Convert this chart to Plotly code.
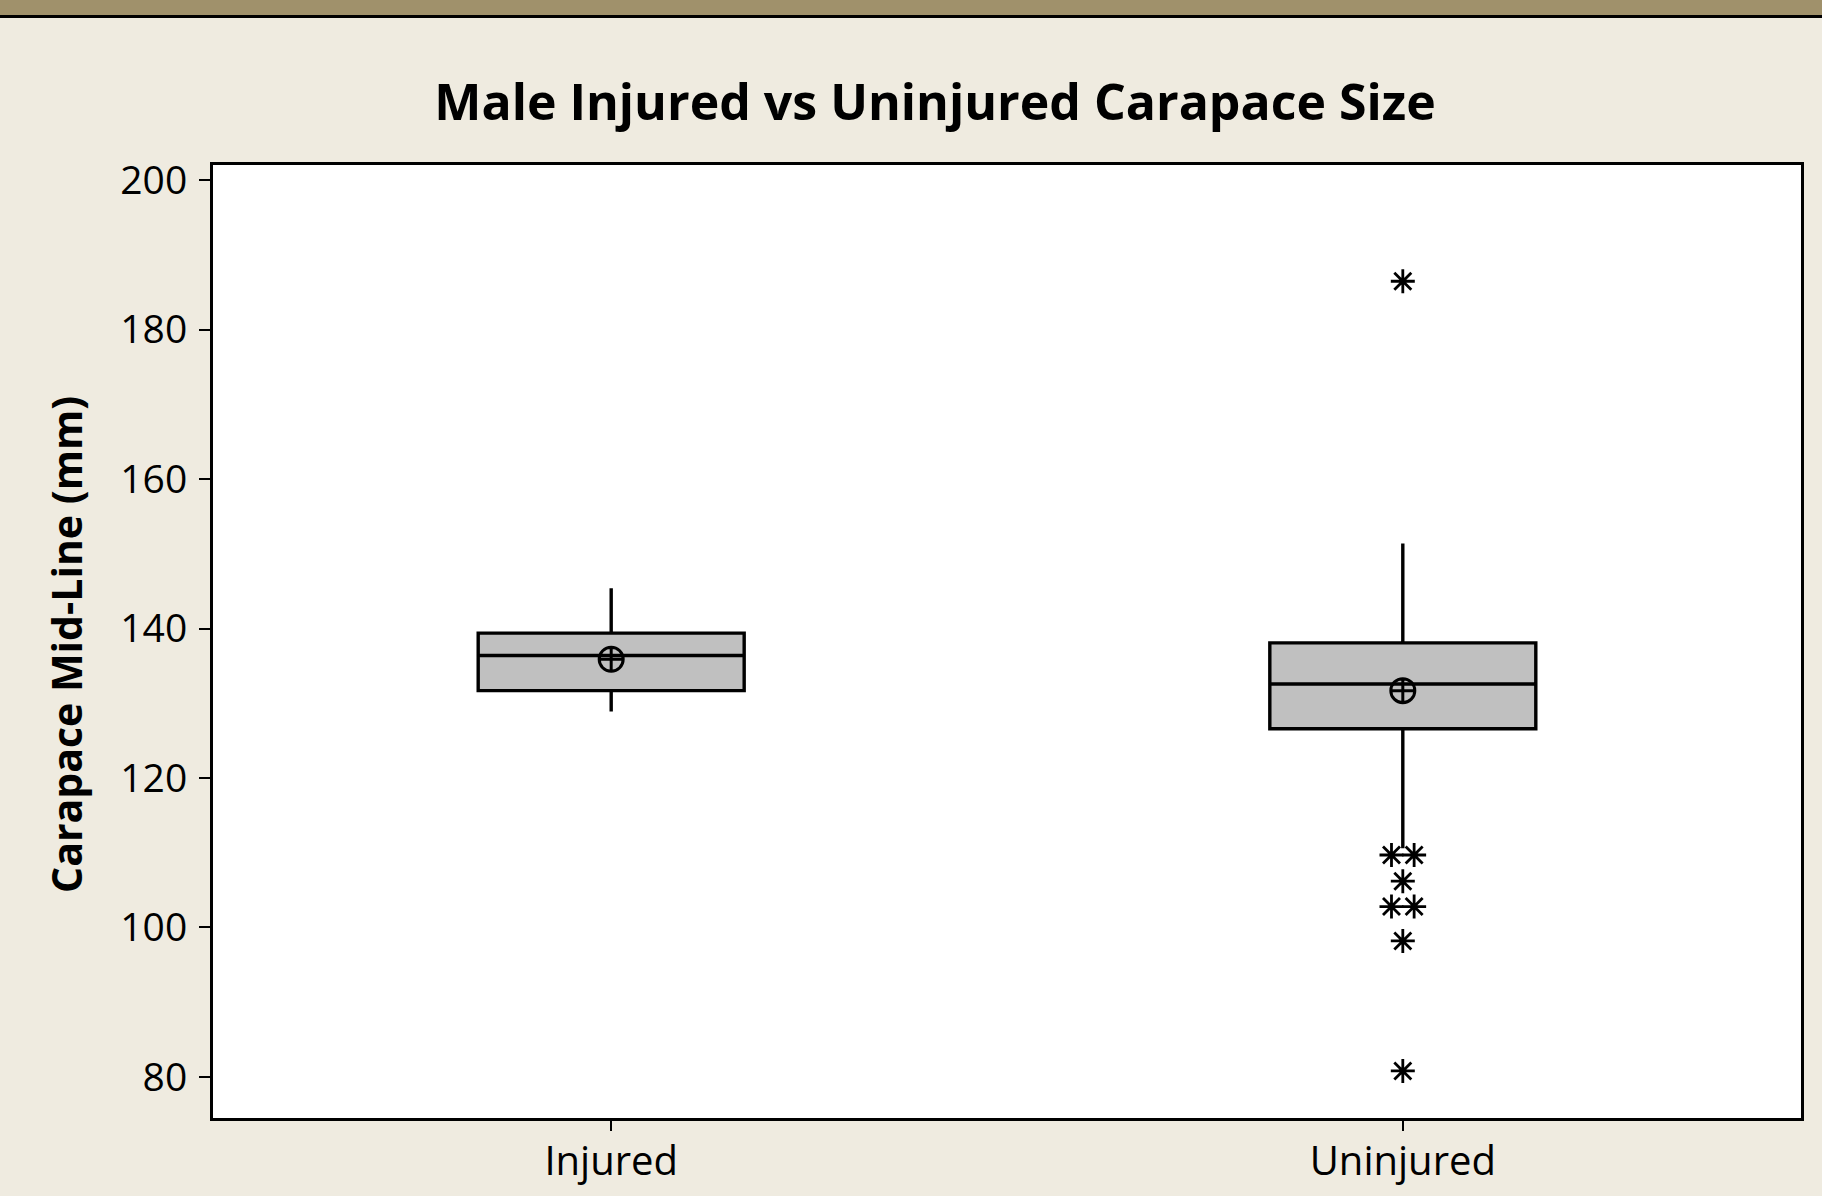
import plotly.graph_objects as go
from collections import Counter

# ---- data ----
categories = ["Injured", "Uninjured"]
q1_vals = [131.7, 126.6]
median_vals = [136.4, 132.6]
q3_vals = [139.4, 138.1]
lower_whisker = [128.9, 110.6]
upper_whisker = [145.4, 151.4]
mean_vals = [135.9, 131.7]
uninjured_outliers = [186.5, 109.7, 109.7, 106.2, 102.8, 102.8, 98.2, 80.8]
y_ticks = [80, 100, 120, 140, 160, 180, 200]

W, H = 1822, 1196
M_L, M_R, M_T, M_B = 213, 21, 165, 78
BG = "#EFEBE0"
FONT = "Open Sans"

fig = go.Figure()

xpos = list(range(len(categories)))
for i, cat in enumerate(categories):
    fig.add_trace(go.Box(
        x=[xpos[i]], q1=[q1_vals[i]], median=[median_vals[i]], q3=[q3_vals[i]],
        lowerfence=[lower_whisker[i]], upperfence=[upper_whisker[i]],
        width=0.336, whiskerwidth=0,
        fillcolor="#C0C0C0", line=dict(color="black", width=3.4),
        boxpoints=False, name=cat, showlegend=False, hoverinfo="skip",
    ))

# mean symbols
fig.add_trace(go.Scatter(
    x=xpos, y=mean_vals, mode="markers",
    marker=dict(symbol="circle-cross-open", size=24, color="black",
                line=dict(width=3, color="black")),
    showlegend=False, hoverinfo="skip",
))

# outliers: tied values are spread side by side, as in the source
counts = Counter(uninjured_outliers)
ox, oy = [], []
spread = 0.0143
for v, n in counts.items():
    for k in range(n):
        ox.append(xpos[1] + (k - (n - 1) / 2) * 2 * spread * (1 if n > 1 else 0))
        oy.append(v)
fig.add_trace(go.Scatter(
    x=ox, y=oy, mode="markers",
    marker=dict(symbol="asterisk-open", size=20, color="black",
                line=dict(width=2.8, color="black")),
    showlegend=False, hoverinfo="skip",
))

ph = H - M_T - M_B
def py(pix):
    return 1 + (M_T - pix) / ph

pw = W - M_L - M_R
def px(pix):
    return (pix - M_L) / pw

shapes = [
    dict(type="rect", xref="paper", yref="paper", x0=px(0), x1=px(W),
         y0=py(15), y1=py(0), fillcolor="#A0916B", line=dict(width=0), layer="above"),
    dict(type="rect", xref="paper", yref="paper", x0=px(0), x1=px(W),
         y0=py(18), y1=py(15), fillcolor="black", line=dict(width=0), layer="above"),
]

fig.update_layout(
    width=W, height=H,
    margin=dict(l=M_L, r=M_R, t=M_T, b=M_B, pad=0, autoexpand=False),
    paper_bgcolor=BG, plot_bgcolor="white",
    font=dict(family=FONT, color="black"),
    shapes=shapes,
    title=dict(text="<b>Male Injured vs Uninjured Carapace Size</b>",
               x=935 / W, xanchor="center", y=1 - 102 / H, yanchor="middle",
               font=dict(family=FONT, size=50, color="black")),
    annotations=[dict(text="<b>Carapace Mid-Line (mm)</b>", textangle=-90,
                      xref="paper", yref="paper", x=px(66), y=py(645),
                      xanchor="center", yanchor="middle", showarrow=False,
                      font=dict(family=FONT, size=41, color="black"))],
    xaxis=dict(range=[-0.503, 1.503], tickvals=xpos, ticktext=categories,
               automargin=False, ticklabelstandoff=-4,
               ticks="outside", ticklen=10, tickwidth=2, tickcolor="black",
               showline=True, linewidth=3, linecolor="black", mirror=True,
               showgrid=False, zeroline=False,
               tickfont=dict(family=FONT, size=40, color="black")),
    yaxis=dict(range=[74.5, 202.06], tickvals=y_ticks, automargin=False,
               ticks="outside", ticklen=11, tickwidth=2, tickcolor="black",
               ticklabelstandoff=4,
               showline=True, linewidth=3, linecolor="black", mirror=True,
               showgrid=False, zeroline=False,
               tickfont=dict(family=FONT, size=39, color="black")),
)

fig.write_html("out.html", config={"displayModeBar": False},
               post_script="document.body.style.margin='0';document.body.style.background='%s';" % BG)
